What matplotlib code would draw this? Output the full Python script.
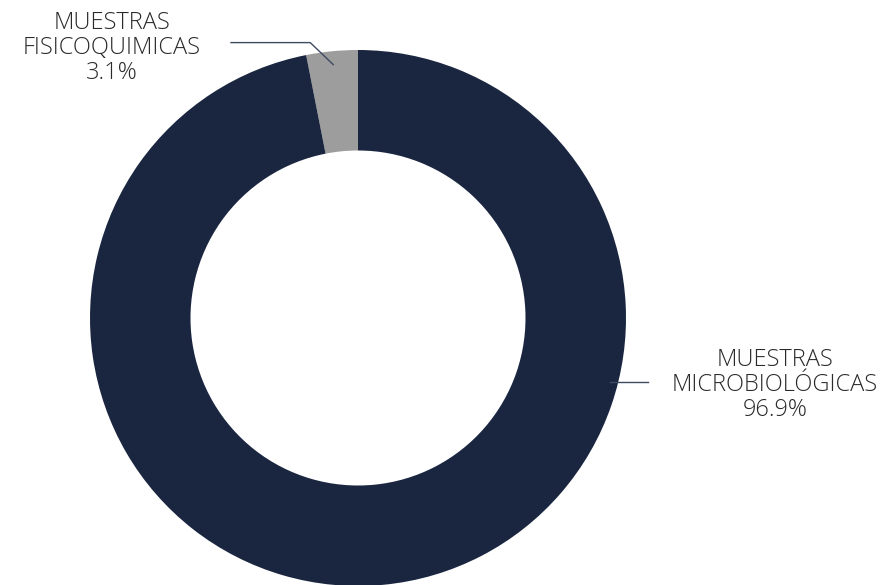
import numpy as np
import matplotlib.pyplot as plt

labels = ["MUESTRAS\nFISICOQUIMICAS", "MUESTRAS\nMICROBIOLÓGICAS"]
values = [3.1, 96.9]
colors = ["#9d9d9d", "#1a2640"]

plt.rcParams["font.family"] = ["Open Sans", "DejaVu Sans"]

fig = plt.figure(figsize=(8.95, 5.85), dpi=100)
ax = fig.add_axes([0, 0, 1, 1])
ax.set_xlim(0, 895)
ax.set_ylim(0, 585)
ax.set_aspect("equal")
ax.axis("off")

cx, cy, R = 358, 585 - 318, 268
wedges, _ = ax.pie(values, colors=colors, startangle=90, counterclock=True,
                   center=(cx, cy), radius=R,
                   wedgeprops=dict(width=R * 0.375, edgecolor="none"))
ax.set_xlim(0, 895)
ax.set_ylim(0, 585)

line_col = "#3d4b60"
txt_col = "#2a2a2a"

# small slice: leader to upper left
w = wedges[0]
ang = np.deg2rad((w.theta1 + w.theta2) / 2)
px, py = cx + 0.95 * R * np.cos(ang), cy + 0.95 * R * np.sin(ang)
ax.plot([px, px - 23, 231], [py, py + 22, py + 22], color=line_col, lw=1)
ax.text(112, py + 22 - 5, f"{labels[0]}\n{values[0]:.1f}%", ha="center", va="center",
        fontsize=17, color=txt_col, fontweight="light", linespacing=1.05)

# big slice: leader to the right
ang = np.deg2rad(-13.9)
px, py = cx + R * np.cos(ang), cy + R * np.sin(ang)
ax.plot([px - 8, 648], [py, py], color=line_col, lw=1)
ax.text(775, py - 3, f"{labels[1]}\n{values[1]:.1f}%", ha="center", va="center",
        fontsize=17, color=txt_col, fontweight="light", linespacing=1.05)

fig.savefig("out.png", dpi=100)
